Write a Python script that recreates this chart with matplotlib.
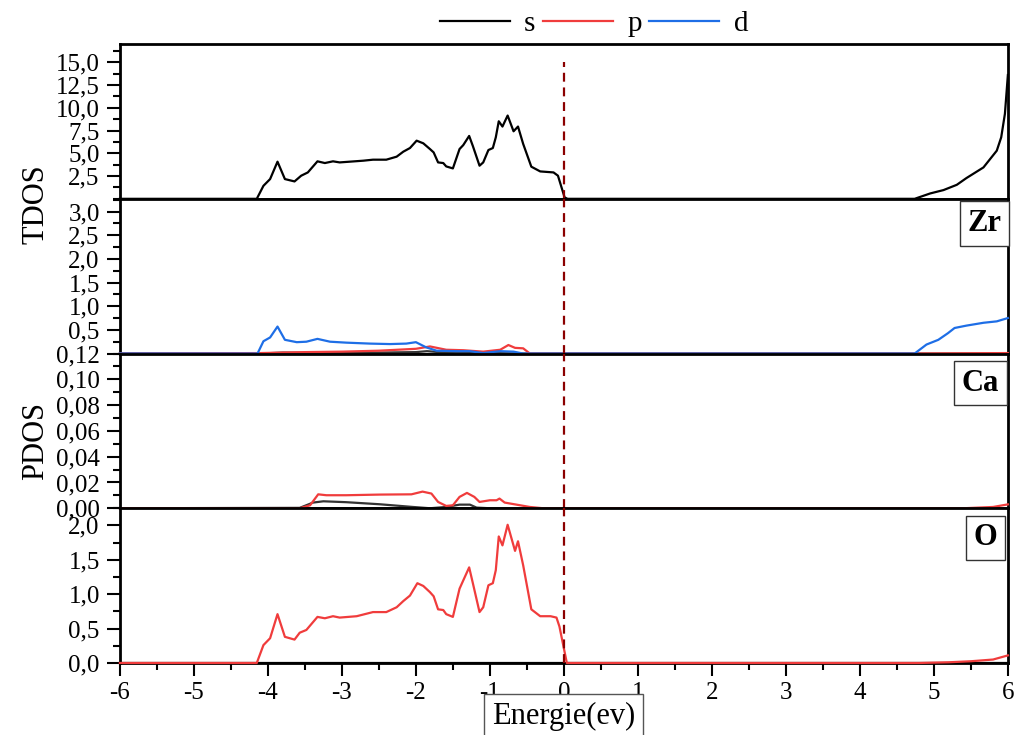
import matplotlib
matplotlib.use("Agg")
import matplotlib.pyplot as plt
from matplotlib.ticker import MultipleLocator, FuncFormatter

# total DOS
tdos_e = [-6, -4.15, -4.06, -3.97, -3.87, -3.77, -3.64, -3.55, -3.46, -3.33, -3.23, -3.12, -3.03,
          -2.71, -2.58, -2.40, -2.26, -2.17, -2.08, -1.99, -1.90, -1.81, -1.76, -1.70, -1.63, -1.59,
          -1.50, -1.41, -1.36, -1.28, -1.23, -1.14, -1.09, -1.02, -0.96, -0.92, -0.88, -0.83, -0.76,
          -0.68, -0.62, -0.55, -0.44, -0.32, -0.14, -0.08, 0.01, 0.05, 4.74, 4.95, 5.13, 5.31, 5.44,
          5.67, 5.85, 5.91, 5.96, 6.0]
tdos_v = [0, 0, 1.43, 2.17, 4.08, 2.17, 1.91, 2.54, 2.9, 4.12, 3.93, 4.12, 4.0,
          4.19, 4.3, 4.3, 4.63, 5.18, 5.58, 6.39, 6.1, 5.47, 5.1, 4.0, 3.93, 3.56,
          3.34, 5.47, 5.9, 6.91, 5.8, 3.64, 4.0, 5.36, 5.58, 6.76, 8.52, 7.94, 9.15,
          7.42, 7.94, 6.03, 3.53, 3.01, 2.9, 2.54, 0.15, 0, 0, 0.59, 0.96, 1.54, 2.28,
          3.45, 5.29, 6.76, 9.34, 13.6]

# Zr
zr_s_e = [-6, -4.1, -3.8, -3.0, -2.0, -1.85, -1.6, -1.0, -0.5, 6.0]
zr_s_v = [0, 0, 0.02, 0.01, 0.03, 0.05, 0.02, 0.01, 0, 0]
zr_p_e = [-6, -4.1, -3.5, -3.0, -2.5, -2.0, -1.81, -1.59, -1.36, -1.09, -0.86, -0.75, -0.66,
          -0.55, -0.46, 4.8, 6.0]
zr_p_v = [0, 0.01, 0.03, 0.04, 0.06, 0.1, 0.15, 0.08, 0.07, 0.04, 0.08, 0.18, 0.12,
          0.11, 0, 0, 0.01]
zr_d_e = [-6, -4.14, -4.06, -3.97, -3.87, -3.77, -3.61, -3.48, -3.33, -3.16, -2.94, -2.62,
          -2.35, -2.13, -2.0, -1.86, -1.72, -1.45, -1.27, -1.09, -0.86, -0.68, -0.55, 4.74,
          4.90, 5.06, 5.19, 5.28, 5.44, 5.67, 5.85, 6.0]
zr_d_v = [0, 0, 0.26, 0.34, 0.57, 0.29, 0.24, 0.25, 0.31, 0.25, 0.23, 0.21,
          0.2, 0.21, 0.24, 0.13, 0.06, 0.05, 0.05, 0.01, 0.05, 0.04, 0, 0,
          0.19, 0.29, 0.43, 0.54, 0.59, 0.65, 0.68, 0.75]

# Ca
ca_s_e = [-6, -3.57, -3.39, -3.25, -2.94, -2.49, -2.04, -1.81, -1.59, -1.41, -1.27, -1.18, -1.0, 6.0]
ca_s_v = [0, 0.0003, 0.0044, 0.0054, 0.0047, 0.0031, 0.001, 0, 0.001, 0.0028, 0.0028, 0.0005, 0, 0]
ca_p_e = [-6, -3.57, -3.43, -3.32, -3.21, -2.94, -2.49, -2.06, -1.91, -1.79, -1.70, -1.59, -1.50,
          -1.41, -1.31, -1.21, -1.14, -1.0, -0.91, -0.87, -0.80, -0.64, -0.46, -0.28, 5.4, 5.8, 6.0]
ca_p_v = [0, 0, 0.0023, 0.0108, 0.0101, 0.0101, 0.0106, 0.0108, 0.0129, 0.0114, 0.0049, 0.0018, 0.0023,
          0.0088, 0.0119, 0.0088, 0.0049, 0.0062, 0.0062, 0.0075, 0.0044, 0.0028, 0.001, 0, 0, 0.001, 0.003]

# O
o_s_e = [-6, 6]
o_s_v = [0, 0]
o_p_e = [-6, -4.15, -4.06, -3.97, -3.87, -3.77, -3.64, -3.57, -3.48, -3.33, -3.23, -3.12, -3.03,
         -2.80, -2.58, -2.40, -2.26, -2.17, -2.08, -1.98, -1.90, -1.81, -1.76, -1.70, -1.63, -1.59,
         -1.50, -1.41, -1.36, -1.28, -1.23, -1.14, -1.09, -1.02, -0.96, -0.92, -0.88, -0.83, -0.76,
         -0.66, -0.62, -0.55, -0.44, -0.32, -0.18, -0.10, -0.06, 0.04, 4.8, 5.2, 5.5, 5.8, 6.0]
o_p_v = [0, 0, 0.26, 0.36, 0.71, 0.38, 0.34, 0.44, 0.48, 0.67, 0.65, 0.68, 0.66,
         0.68, 0.74, 0.74, 0.81, 0.90, 0.98, 1.16, 1.12, 1.03, 0.97, 0.78, 0.77, 0.71,
         0.67, 1.08, 1.20, 1.39, 1.16, 0.74, 0.81, 1.13, 1.16, 1.35, 1.84, 1.71, 2.01,
         1.63, 1.77, 1.42, 0.78, 0.68, 0.68, 0.66, 0.53, 0, 0, 0.01, 0.025, 0.05, 0.11]

S_COL = "black"
P_COL = "#f03c3c"
D_COL = "#1e6ee6"
FERMI_COL = "#8b0000"

plt.rcParams["font.family"] = ["Liberation Serif", "DejaVu Serif"]
plt.rcParams["axes.unicode_minus"] = False

fig, axes = plt.subplots(4, 1, sharex=True, figsize=(10.16, 7.35), dpi=100,
                         gridspec_kw={"hspace": 0})
fig.subplots_adjust(left=0.118, right=0.992, top=0.940, bottom=0.098)
ax_t, ax_zr, ax_ca, ax_o = axes

lw = 1.6
ax_t.plot(tdos_e, tdos_v, color=S_COL, lw=lw, clip_on=False, zorder=3)

ax_zr.plot(zr_s_e, zr_s_v, color="#333333", lw=lw, clip_on=False, zorder=3)
ax_zr.plot(zr_p_e, zr_p_v, color=P_COL, lw=lw, clip_on=False, zorder=3)
ax_zr.plot(zr_d_e, zr_d_v, color=D_COL, lw=lw, clip_on=False, zorder=3)

ax_ca.plot(ca_s_e, ca_s_v, color="#333333", lw=lw, clip_on=False, zorder=3)
ax_ca.plot(ca_p_e, ca_p_v, color=P_COL, lw=lw, clip_on=False, zorder=3)

ax_o.plot(o_s_e, o_s_v, color=S_COL, lw=lw, clip_on=False, zorder=3)
ax_o.plot(o_p_e, o_p_v, color=P_COL, lw=lw, clip_on=False, zorder=3)

# Fermi level
ax_t.plot([0, 0], [0, 15], color=FERMI_COL, lw=1.6, ls=(0, (4, 2.6)), zorder=4)
for ax in (ax_zr, ax_ca, ax_o):
    ax.axvline(0, color=FERMI_COL, lw=1.6, ls=(0, (4, 2.6)), zorder=4)

def comma(fmt):
    return FuncFormatter(lambda v, pos: fmt.format(v).replace(".", ","))

ax_t.set_ylim(0, 17)
ax_t.set_yticks([2.5, 5, 7.5, 10, 12.5, 15])
ax_t.yaxis.set_minor_locator(MultipleLocator(1.25))
ax_t.yaxis.set_major_formatter(comma("{:.1f}"))

ax_zr.set_ylim(0, 3.27)
ax_zr.set_yticks([0.5, 1.0, 1.5, 2.0, 2.5, 3.0])
ax_zr.yaxis.set_minor_locator(MultipleLocator(0.25))
ax_zr.yaxis.set_major_formatter(comma("{:.1f}"))

ax_ca.set_ylim(0, 0.12)
ax_ca.set_yticks([0, 0.02, 0.04, 0.06, 0.08, 0.10, 0.12])
ax_ca.yaxis.set_minor_locator(MultipleLocator(0.01))
ax_ca.yaxis.set_major_formatter(comma("{:.2f}"))

ax_o.set_ylim(0, 2.25)
ax_o.set_yticks([0, 0.5, 1.0, 1.5, 2.0])
ax_o.yaxis.set_minor_locator(MultipleLocator(0.25))
ax_o.yaxis.set_major_formatter(comma("{:.1f}"))

ax_o.set_xlim(-6, 6)
ax_o.set_xticks(range(-6, 7))
ax_o.xaxis.set_minor_locator(MultipleLocator(0.5))

for ax in axes:
    for sp in ax.spines.values():
        sp.set_linewidth(2)
    ax.tick_params(axis="y", which="major", direction="out", length=9.5, width=1.5,
                   labelsize=18, pad=5)
    ax.tick_params(axis="y", which="minor", direction="out", length=5, width=1.5)
    ax.tick_params(axis="x", which="both", bottom=False, labelbottom=False)
ax_o.tick_params(axis="x", which="major", bottom=True, labelbottom=True, direction="out",
                 length=9, width=1.5, labelsize=18, pad=5)
ax_o.tick_params(axis="x", which="minor", bottom=True, direction="out", length=5, width=1.5)

# element labels
for ax, name, x, y in [(ax_zr, "Zr", 0.993, 0.935), (ax_ca, "Ca", 0.990, 0.903),
                       (ax_o, "O", 0.988, 0.903)]:
    ax.text(x, y, name, transform=ax.transAxes, ha="right", va="top", fontsize=22,
            fontweight="bold", zorder=5,
            bbox=dict(boxstyle="square,pad=0.25", fc="white", ec="#333333", lw=1))

fig.text(36 / 1016, 1 - 204 / 735, "TDOS", rotation=90, ha="center", va="center", fontsize=22)
fig.text(36 / 1016, 1 - 441 / 735, "PDOS", rotation=90, ha="center", va="center", fontsize=22)

fig.text(563.5 / 1016, 1 - 716 / 735, "Energie(ev)", ha="center", va="center", fontsize=22,
         bbox=dict(boxstyle="square,pad=0.25", fc="white", ec="#555555", lw=1))

# legend on top
h_s, = ax_t.plot([], [], color=S_COL, lw=lw)
h_p, = ax_t.plot([], [], color=P_COL, lw=lw)
h_d, = ax_t.plot([], [], color=D_COL, lw=lw)
fig.legend([h_s, h_p, h_d], ["s", "p", "d"], loc="center", bbox_to_anchor=(594 / 1016, 1 - 24 / 735),
           ncol=3, frameon=False, fontsize=21, handlelength=2.4, handletextpad=0.5,
           columnspacing=0.25, borderpad=0)

fig.savefig("out.png", dpi=100)
